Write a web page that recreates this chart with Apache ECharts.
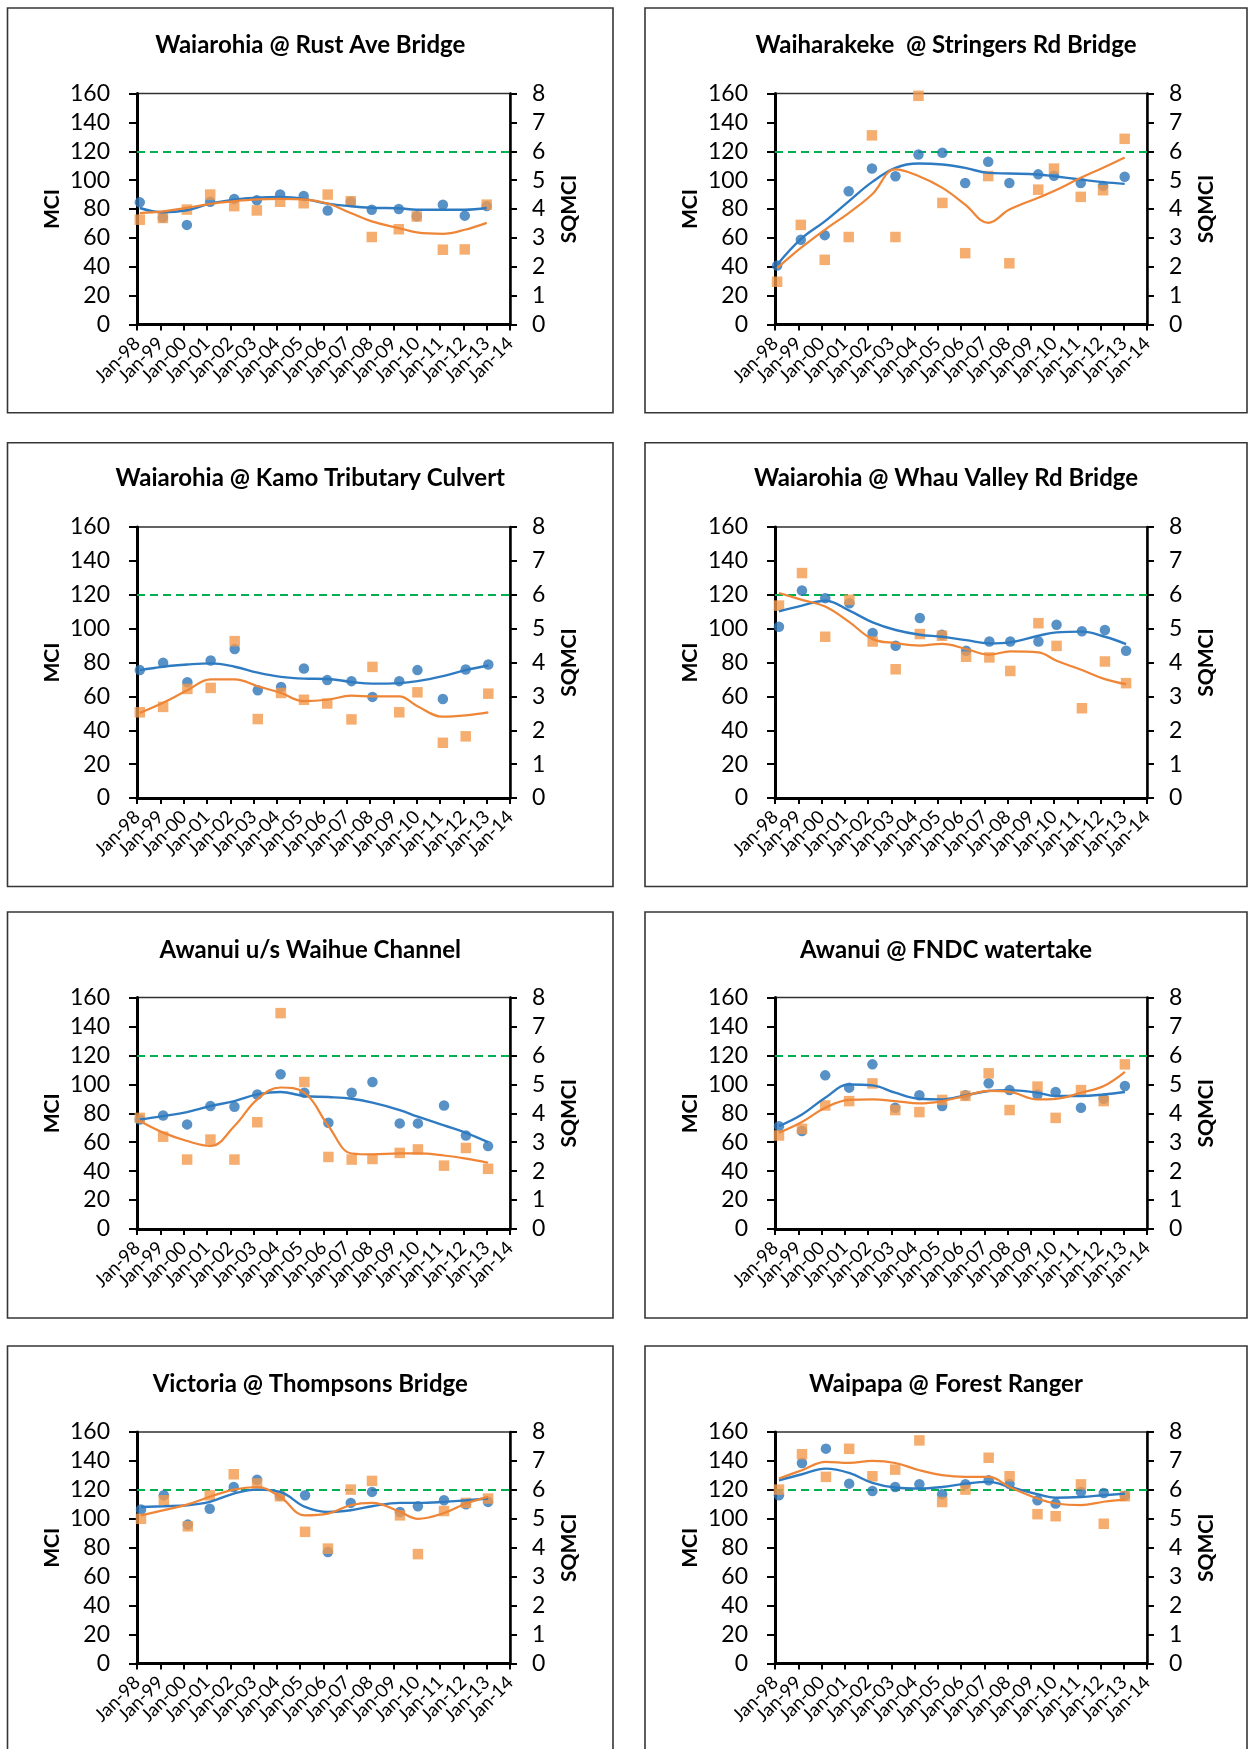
<!DOCTYPE html>
<html>
<head>
<meta charset="utf-8">
<script src="https://cdn.jsdelivr.net/npm/echarts@6/dist/echarts.min.js"></script>
<style>
html,body{margin:0;padding:0;background:#fff;}
#chart{width:1250px;height:1749px;}
</style>
</head>
<body>
<div id="chart"></div>
<script>
// ---------------- DATA ----------------
const titles = [
  'Waiarohia @ Rust Ave Bridge',
  'Waiharakeke  @ Stringers Rd Bridge',
  'Waiarohia @ Kamo Tributary Culvert',
  'Waiarohia @ Whau Valley Rd Bridge',
  'Awanui u/s Waihue Channel',
  'Awanui @ FNDC watertake',
  'Victoria @ Thompsons Bridge',
  'Waipapa @ Forest Ranger'
];
const xTickLabels = ['Jan-98','Jan-99','Jan-00','Jan-01','Jan-02','Jan-03','Jan-04','Jan-05','Jan-06',
  'Jan-07','Jan-08','Jan-09','Jan-10','Jan-11','Jan-12','Jan-13','Jan-14'];
const xStartYear = 1998, xEndYear = 2014;
const mciName = 'MCI';
const sqmciName = 'SQMCI';
const guideline = 120;

// Panel 1
const years1 = [1998.12,1999.11,2000.14,2001.14,2002.17,2003.14,2004.14,2005.15,2006.18,2007.17,2008.07,2009.23,2010.0,2011.12,2012.06,2013.0];
const mci1 = [84.6,74,69,85,87,86,90,89,79,85,79.5,80,75,83,75.4,82];
const sqmci1 = [3.63,3.69,3.98,4.5,4.1,3.95,4.25,4.2,4.5,4.27,3.03,3.3,3.74,2.59,2.6,4.15];
const trendMci1 = [80.7,77.7,79.1,83.7,86.5,87.9,88.3,87,83.7,81.9,80.9,80.5,79.5,79.5,79.5,80.7];
const trendSqmci1 = [3.86,3.92,4.04,4.18,4.27,4.33,4.35,4.33,4.19,3.86,3.57,3.34,3.19,3.14,3.28,3.52];

// Panel 2
const years2 = [1998.09,1999.11,2000.14,2001.17,2002.17,2003.18,2004.17,2005.2,2006.18,2007.17,2008.08,2009.32,2010.0,2011.15,2012.11,2013.04];
const mci2 = [40.8,58.7,61.9,92.3,108,102.7,117.8,119,98,112.7,98,104,103,98,96,102.3];
const sqmci2 = [1.48,3.45,2.24,3.03,6.55,3.03,7.92,4.21,2.47,5.14,2.12,4.67,5.4,4.42,4.65,6.43];
const trendMci2 = [41.3,59.1,71.4,85.3,98.6,108.5,111.5,110.8,108.5,105,104.6,103.9,102.7,100.4,98.6,97.4];
const trendSqmci2 = [1.95,2.65,3.28,3.86,4.5,5.37,5.14,4.73,4.15,3.52,3.98,4.39,4.62,5.08,5.43,5.78];

// Panel 3
const years3 = [1998.12,1999.12,2000.16,2001.16,2002.19,2003.18,2004.18,2005.16,2006.16,2007.2,2008.1,2009.25,2010.03,2011.12,2012.1,2013.07];
const mci3 = [75.5,79.8,68.4,81.2,88,63.6,65.6,76.5,69.6,69,59.7,69,75.5,58.5,75.9,78.8];
const sqmci3 = [2.53,2.69,3.22,3.25,4.63,2.33,3.1,2.9,2.79,2.32,3.87,2.53,3.12,1.63,1.82,3.08];
const trendMci3 = [75.5,77.5,78.8,79.5,77.5,74,71.5,70.5,70.3,68.5,67.5,67.8,69,72,75.5,78.2];
const trendSqmci3 = [2.51,2.81,3.18,3.5,3.5,3.3,3.1,2.86,2.9,3.02,3.0,3.0,2.71,2.4,2.44,2.53];

// Panel 4
const years4 = [1998.17,1999.16,2000.16,2001.2,2002.2,2003.19,2004.23,2005.18,2006.22,2007.22,2008.12,2009.33,2010.11,2011.2,2012.19,2013.1];
const mci4 = [101.1,122.5,118,115,97.4,89.9,106.3,96.4,86.9,92.4,92.4,92.4,102.3,98.4,99.2,86.9];
const sqmci4 = [5.68,6.64,4.76,5.85,4.62,3.8,4.84,4.79,4.17,4.15,3.75,5.16,4.49,2.65,4.03,3.39];
const trendMci4 = [110.2,113.6,116.5,110.6,103.7,99.2,96.4,95.2,93.2,91.3,91.9,95.8,97.8,98.2,95.2,90.9];
const trendSqmci4 = [6.05,5.85,5.65,5.19,4.69,4.57,4.5,4.55,4.4,4.23,4.33,4.3,4.05,3.78,3.51,3.36];

// Panel 5
const years5 = [1998.12,1999.12,2000.15,2001.15,2002.18,2003.16,2004.16,2005.18,2006.21,2007.21,2008.1,2009.27,2010.05,2011.17,2012.11,2013.06];
const mci5 = [75.7,78.5,72.3,85,84.5,93,106.9,94.2,73.4,94.2,101.6,73,73,85.4,64.6,57.3];
const sqmci5 = [3.84,3.19,2.4,3.09,2.4,3.69,7.46,5.08,2.49,2.4,2.42,2.63,2.75,2.19,2.8,2.08];
const trendMci5 = [75.7,78,80.8,85,88.4,93,94.7,91.9,91.2,90,87.3,82.2,77.6,71.6,66.5,60];
const trendSqmci5 = [3.73,3.33,3.04,2.87,3.56,4.48,4.89,4.71,3.56,2.61,2.58,2.61,2.61,2.54,2.43,2.29];

// Panel 6
const years6 = [1998.17,1999.16,2000.16,2001.19,2002.19,2003.17,2004.21,2005.19,2006.19,2007.19,2008.09,2009.29,2010.07,2011.16,2012.14,2013.05];
const mci6 = [71.1,67.7,106.2,97.7,113.8,83.8,92.4,85,92.4,100.7,96,93,94.7,83.8,90,98.8];
const sqmci6 = [3.23,3.46,4.27,4.42,5.03,4.11,4.04,4.46,4.6,5.38,4.11,4.92,3.84,4.8,4.42,5.69];
const trendMci6 = [71.1,79.2,90.7,99.9,99.3,94.2,90,89.6,92.4,95.4,96,94.2,91.9,91.9,93,94.7];
const trendSqmci6 = [3.33,3.7,4.19,4.46,4.48,4.42,4.34,4.42,4.6,4.77,4.74,4.48,4.5,4.71,4.94,5.43];

// Panel 7
const years7 = [1998.17,1999.15,2000.18,2001.12,2002.15,2003.15,2004.13,2005.21,2006.19,2007.17,2008.08,2009.28,2010.05,2011.17,2012.11,2013.06];
const mci7 = [106.4,116.3,96,107,122,127,116,116.3,77.1,111,118.6,104.7,108.7,112.8,110,111.7];
const sqmci7 = [5.0,5.64,4.74,5.81,6.54,6.22,5.78,4.55,3.97,6.01,6.31,5.12,3.78,5.27,5.55,5.7];
const trendMci7 = [108.2,108.7,109.4,111.7,117.4,120.2,118.6,108.2,104.7,105.9,108.7,111,111,111.7,112.8,114];
const trendSqmci7 = [5.12,5.3,5.5,5.76,6.01,6.1,5.76,5.12,5.18,5.47,5.55,5.24,5.0,5.2,5.53,5.76];

// Panel 8
const years8 = [1998.17,1999.16,2000.19,2001.19,2002.19,2003.17,2004.21,2005.19,2006.19,2007.19,2008.09,2009.29,2010.07,2011.16,2012.14,2013.05];
const mci8 = [116.3,138.6,148.5,124.3,119.2,122,123.9,117,123.9,126.6,124,112.8,110.5,118.6,117.9,116];
const sqmci8 = [6.01,7.23,6.45,7.42,6.47,6.7,7.71,5.58,6.01,7.11,6.47,5.16,5.09,6.19,4.83,5.78];
const trendMci8 = [126.6,130.8,134.7,131.7,124.8,121.6,120.9,122,124.3,125.5,122,117,114.6,115.1,116.3,117.4];
const trendSqmci8 = [6.39,6.68,6.97,6.93,7.0,6.93,6.68,6.51,6.45,6.45,6.1,5.7,5.53,5.47,5.59,5.66];

// ---------------- LAYOUT / STYLE ----------------
const FONT = 'Lato, "Open Sans", "Liberation Sans", sans-serif';
const BLUE = '#2E75B6', BLUE_LINE = '#2F7BC2';
const ORANGE = '#F39A4C', ORANGE_LINE = '#EF8536';
const GREEN = '#00B050';

const panels = [
  [years1, mci1, sqmci1, trendMci1, trendSqmci1],
  [years2, mci2, sqmci2, trendMci2, trendSqmci2],
  [years3, mci3, sqmci3, trendMci3, trendSqmci3],
  [years4, mci4, sqmci4, trendMci4, trendSqmci4],
  [years5, mci5, sqmci5, trendMci5, trendSqmci5],
  [years6, mci6, sqmci6, trendMci6, trendSqmci6],
  [years7, mci7, sqmci7, trendMci7, trendSqmci7],
  [years8, mci8, sqmci8, trendMci8, trendSqmci8]
];

const colBox = [[7.5, 613], [645, 1247]];
const colPlot = [[137, 510], [775, 1147]];
const rowBox = [[8, 412.7], [442.7, 886.5], [912, 1318], [1346, 1800]];
const rowPlot = [[93.5, 324.5], [527, 798], [997.5, 1229], [1432, 1663.5]];
const rowTitle = [45, 478.5, 950, 1384];

const zip = (a, b) => a.map((v, k) => [v, b[k]]);

const grids = [], xAxes = [], yAxes = [], series = [], graphics = [];

panels.forEach((p, i) => {
  const [yrs, mci, sq, tM, tS] = p;
  const c = i % 2, r = Math.floor(i / 2);
  const gl = colPlot[c][0], gr = colPlot[c][1], gt = rowPlot[r][0], gb = rowPlot[r][1];

  graphics.push({
    type: 'rect', silent: true, z: -1,
    shape: { x: colBox[c][0], y: rowBox[r][0], width: colBox[c][1] - colBox[c][0], height: rowBox[r][1] - rowBox[r][0] },
    style: { fill: 'none', stroke: '#363636', lineWidth: 1.6 }
  });
  graphics.push({
    type: 'text', silent: true,
    x: (colBox[c][0] + colBox[c][1]) / 2, y: rowTitle[r],
    style: { text: titles[i], fontFamily: FONT, fontWeight: 'bold', fontSize: 24, fill: '#000', align: 'center', verticalAlign: 'middle' }
  });

  grids.push({
    left: gl, top: gt, width: gr - gl, height: gb - gt,
    show: true, borderColor: '#303030', borderWidth: 1.5, backgroundColor: 'transparent',
    containLabel: false, outerBoundsMode: 'none'
  });

  // value axis carrying the data (decimal years)
  xAxes.push({
    gridIndex: i, type: 'value', position: 'bottom', min: xStartYear, max: xEndYear, interval: 1,
    axisLine: { show: true, onZero: false, lineStyle: { color: '#000', width: 3 } },
    axisTick: { show: false },
    splitLine: { show: false },
    axisLabel: { show: false }
  });
  // category axis with one tick per January, drawing the tick labels
  xAxes.push({
    gridIndex: i, type: 'category', position: 'bottom', data: xTickLabels, boundaryGap: false,
    axisLine: { show: false, onZero: false },
    axisTick: { show: true, inside: false, length: 6, interval: 0, lineStyle: { color: '#000', width: 2 } },
    splitLine: { show: false },
    axisLabel: {
      interval: 0, rotate: 45, margin: 16, fontSize: 18.5, color: '#000', fontFamily: FONT, hideOverlap: false
    }
  });

  yAxes.push({
    gridIndex: i, type: 'value', position: 'left', min: 0, max: 160, interval: 20,
    name: mciName, nameLocation: 'middle', nameRotate: 90, nameGap: 74,
    nameTextStyle: { fontFamily: FONT, fontWeight: 'bold', fontSize: 21, color: '#000' },
    axisLine: { show: true, onZero: false, lineStyle: { color: '#000', width: 3 } },
    axisTick: { show: true, inside: false, length: 8, lineStyle: { color: '#000', width: 2 } },
    splitLine: { show: false },
    axisLabel: { margin: 27, fontSize: 23, color: '#000', fontFamily: FONT, showMinLabel: true, showMaxLabel: true }
  });
  yAxes.push({
    gridIndex: i, type: 'value', position: 'right', min: 0, max: 8, interval: 1,
    name: sqmciName, nameLocation: 'middle', nameRotate: 90, nameGap: 48.5,
    nameTextStyle: { fontFamily: FONT, fontWeight: 'bold', fontSize: 21, color: '#000' },
    axisLine: { show: true, onZero: false, lineStyle: { color: '#000', width: 2.5 } },
    axisTick: { show: true, inside: false, length: 7, lineStyle: { color: '#000', width: 2 } },
    splitLine: { show: false },
    axisLabel: { margin: 22, fontSize: 23, color: '#000', fontFamily: FONT, showMinLabel: true, showMaxLabel: true }
  });

  const xi = 2 * i;
  series.push({
    type: 'scatter', xAxisIndex: xi, yAxisIndex: 2 * i, z: 3,
    symbol: 'circle', symbolSize: 10.5, itemStyle: { color: BLUE },
    data: zip(yrs, mci),
    markLine: {
      silent: true, symbol: 'none', label: { show: false }, z: 1,
      lineStyle: { color: GREEN, width: 2, type: [8, 5] },
      data: [{ yAxis: guideline }]
    }
  });
  series.push({
    type: 'scatter', xAxisIndex: xi, yAxisIndex: 2 * i + 1, z: 3,
    symbol: 'rect', symbolSize: 10.5, itemStyle: { color: ORANGE },
    data: zip(yrs, sq)
  });
  series.push({
    type: 'line', xAxisIndex: xi, yAxisIndex: 2 * i, z: 4,
    smooth: 0.4, showSymbol: false, symbol: 'none',
    lineStyle: { color: BLUE_LINE, width: 2.4 },
    data: zip(yrs, tM)
  });
  series.push({
    type: 'line', xAxisIndex: xi, yAxisIndex: 2 * i + 1, z: 4,
    smooth: 0.4, showSymbol: false, symbol: 'none',
    lineStyle: { color: ORANGE_LINE, width: 2.2 },
    data: zip(yrs, tS)
  });
});

const chart = echarts.init(document.getElementById('chart'), null, { renderer: 'canvas', width: 1250, height: 1749 });
chart.setOption({
  animation: false,
  backgroundColor: '#fff',
  grid: grids,
  xAxis: xAxes,
  yAxis: yAxes,
  series: series,
  graphic: graphics
});
</script>
</body>
</html>
